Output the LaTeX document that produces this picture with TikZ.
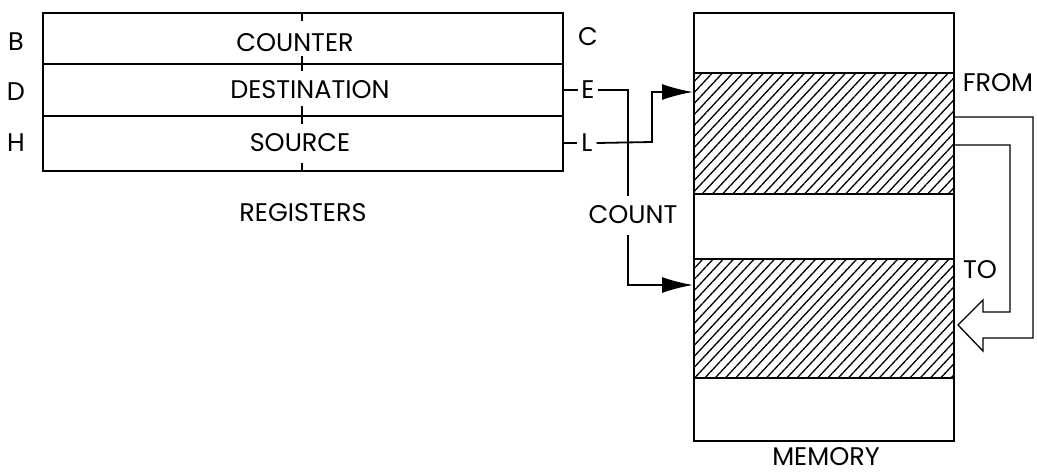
\documentclass[tikz,border=0pt]{standalone}
\usepackage{fontspec}
\setmainfont{Poppins}
\usetikzlibrary{arrows.meta,patterns.meta}
\tikzset{
  lbl/.style={inner sep=0pt, font=\fontsize{25.5}{25.5}\selectfont},
  regrow/.style={draw, line width=1.8pt, minimum width=520pt, inner sep=0pt, anchor=north west},
  memblk/.style={draw, line width=1.8pt, minimum width=260pt, inner sep=0pt, anchor=north west},
  hatched/.style={pattern={Lines[angle=47,distance=7.5pt,line width=1.3pt]}, pattern color=black},
  conn/.style={line width=1.8pt},
  solidarrow/.style={conn, -{Latex[length=31pt,width=16pt]}},
  hollow/.style={line width=1.3pt, line join=miter}
}
\begin{document}
\begin{tikzpicture}[x=1pt,y=-1pt]
\useasboundingbox (0,0) rectangle (1037,474);
% registers
\node[regrow, minimum height=51pt] (cnt) at (42,12) {};
\node[regrow, minimum height=52pt] (dst) at (42,63) {};
\node[regrow, minimum height=55pt] (src) at (42,115) {};
\node[lbl] (tcnt) at (295,43) {COUNTER};
\node[lbl] (tdst) at (310,90) {DESTINATION};
\node[lbl] (tsrc) at (300,143) {SOURCE};
\node[lbl] (treg) at (303,213) {REGISTERS};
\node[lbl] (b) at (16,42) {B};
\node[lbl] (d) at (16,92) {D};
\node[lbl] (h) at (16,143) {H};
\node[lbl] (c) at (588,37) {C};
\node[lbl] (e) at (588,90) {E};
\node[lbl] (l) at (587,143) {L};
% center ticks
\draw[line width=1.4pt] (302,12) -- (302,21);
\draw[line width=1.4pt] (302,56) -- (302,71);
\draw[line width=1.6pt] (302,106) -- (302,124);
\draw[line width=1.8pt] (302,163) -- (302,170);
% memory
\node[memblk, minimum height=60pt] (m1) at (693,12) {};
\node[memblk, hatched, minimum height=121pt] (m2) at (693,72) {};
\node[memblk, minimum height=65pt] (m3) at (693,193) {};
\node[memblk, hatched, minimum height=119pt] (m4) at (693,258) {};
\node[memblk, minimum height=63pt] (m5) at (693,377) {};
\node[lbl] (tmem) at (826,457) {MEMORY};
\node[lbl] (tfrom) at (998,83) {FROM};
\node[lbl] (tto) at (980,270) {TO};
\node[lbl] (tcount) at (633,215) {COUNT};
% connectors
\draw[conn] (dst.east |- e.west) -- ([xshift=-3pt]e.west);
\draw[line width=2.4pt] (src.east |- l.west) -- ([xshift=-4pt]l.west);
\coordinate (ecorner) at (628,90);
\coordinate (cntop) at (628,196);
\coordinate (cnbot) at (628,235);
\coordinate (lcorner) at (652,142);
\coordinate (to1) at (m2.west |- 0,92);
\coordinate (to2) at (m4.west |- 0,285);
\draw[conn] ([xshift=3pt]e.east) -- (ecorner) -- (cntop);
\draw[solidarrow] (cnbot) |- (to2);
\draw[solidarrow] ([xshift=4pt]l.east) -- (lcorner) |- (to1);
% hollow transfer arrow
\draw[hollow] (m2.east |- 0,117) -- (1033,117) -- (1033,338) -- (983,338) -- (983,351)
  -- (958,325) -- (983,300) -- (983,312) -- (1010,312) -- (1010,145) -- (m2.east |- 0,145);
\end{tikzpicture}
\end{document}
